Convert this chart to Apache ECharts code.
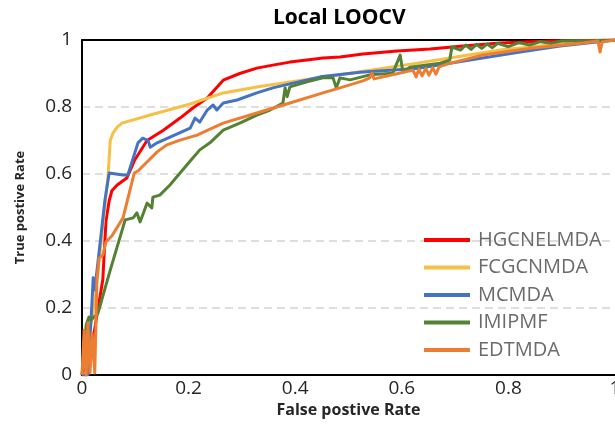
<!DOCTYPE html>
<html>
<head>
<meta charset="utf-8">
<script src="https://cdn.jsdelivr.net/npm/echarts@6/dist/echarts.min.js"></script>
<style>
  html, body { margin: 0; padding: 0; background: #fff; }
  #chart { width: 615px; height: 428px; }
</style>
</head>
<body>
<div id="chart"></div>
<script>
// ROC curves, local leave-one-out cross validation: [false positive rate, true positive rate]
const methodNames = ['HGCNELMDA', 'FCGCNMDA', 'MCMDA', 'IMIPMF', 'EDTMDA'];
const methodColors = ['#FF0000', '#F8BF45', '#4472C4', '#548235', '#ED7D31'];
const axisTicks = [0, 0.2, 0.4, 0.6, 0.8, 1];

const HGCNELMDA = [
  [0, 0], [0.02, 0.1], [0.039, 0.284], [0.045, 0.46], [0.051, 0.52], [0.056, 0.55],
  [0.066, 0.567], [0.084, 0.588], [0.099, 0.642], [0.122, 0.70], [0.152, 0.73],
  [0.184, 0.767], [0.208, 0.797], [0.235, 0.827], [0.265, 0.88], [0.296, 0.90],
  [0.328, 0.916], [0.358, 0.925], [0.39, 0.934], [0.422, 0.94], [0.452, 0.946],
  [0.484, 0.949], [0.527, 0.958], [0.591, 0.967], [0.653, 0.973], [0.715, 0.982],
  [0.784, 0.991], [0.878, 0.997], [1, 1]
];

const FCGCNMDA = [
  [0, 0], [0.024, 0.22], [0.049, 0.597], [0.053, 0.70], [0.058, 0.722], [0.066, 0.74],
  [0.075, 0.752], [0.128, 0.776], [0.203, 0.809], [0.265, 0.842], [0.328, 0.86],
  [0.39, 0.875], [0.503, 0.901], [0.629, 0.931], [0.69, 0.946], [0.784, 0.97],
  [0.897, 0.988], [1, 1]
];

const MCMDA = [
  [0, 0], [0.011, 0], [0.019, 0.224], [0.021, 0.29], [0.024, 0.254], [0.034, 0.394],
  [0.043, 0.522], [0.051, 0.603], [0.077, 0.597], [0.086, 0.597], [0.105, 0.693],
  [0.114, 0.707], [0.124, 0.70], [0.128, 0.68], [0.141, 0.693], [0.165, 0.71],
  [0.203, 0.737], [0.212, 0.767], [0.221, 0.755], [0.235, 0.791], [0.246, 0.806],
  [0.253, 0.791], [0.265, 0.812], [0.291, 0.821], [0.328, 0.842], [0.358, 0.857],
  [0.39, 0.869], [0.447, 0.89], [0.522, 0.904], [0.634, 0.916], [0.728, 0.94],
  [0.822, 0.964], [0.897, 0.982], [1, 1]
];

const IMIPMF = [
  [0, 0], [0.008, 0.15], [0.013, 0.173], [0.017, 0.164], [0.03, 0.185], [0.053, 0.313],
  [0.081, 0.463], [0.096, 0.469], [0.103, 0.484], [0.109, 0.457], [0.122, 0.513],
  [0.131, 0.499], [0.133, 0.531], [0.146, 0.537], [0.165, 0.567], [0.184, 0.603],
  [0.203, 0.639], [0.221, 0.672], [0.24, 0.693], [0.265, 0.731], [0.296, 0.752],
  [0.328, 0.776], [0.353, 0.791], [0.377, 0.812], [0.381, 0.857], [0.385, 0.831],
  [0.39, 0.86], [0.422, 0.875], [0.452, 0.887], [0.471, 0.887], [0.477, 0.857],
  [0.484, 0.887], [0.503, 0.881], [0.54, 0.896], [0.583, 0.901], [0.597, 0.955],
  [0.602, 0.904], [0.615, 0.919], [0.672, 0.931], [0.69, 0.94], [0.694, 0.979],
  [0.71, 0.97], [0.72, 0.985], [0.73, 0.972], [0.74, 0.987], [0.75, 0.975],
  [0.76, 0.988], [0.77, 0.977], [0.78, 0.99], [0.8, 0.98], [0.82, 0.992],
  [0.84, 0.985], [0.86, 0.995], [0.88, 0.99], [0.9, 0.997], [0.95, 0.998], [1, 1]
];

const EDTMDA = [
  [0, 0], [0.004, 0.134], [0.008, 0.0], [0.011, 0.155], [0.015, 0.006], [0.019, 0.125],
  [0.024, 0.006], [0.028, 0.284], [0.032, 0.349], [0.039, 0.358], [0.045, 0.397],
  [0.056, 0.415], [0.077, 0.469], [0.09, 0.552], [0.098, 0.603], [0.105, 0.609],
  [0.122, 0.636], [0.141, 0.666], [0.159, 0.687], [0.184, 0.701], [0.216, 0.716],
  [0.236, 0.731], [0.265, 0.752], [0.328, 0.782], [0.39, 0.812], [0.452, 0.842],
  [0.484, 0.857], [0.527, 0.878], [0.54, 0.887], [0.544, 0.901], [0.548, 0.884],
  [0.591, 0.899], [0.621, 0.91], [0.627, 0.89], [0.632, 0.913], [0.638, 0.893],
  [0.645, 0.915], [0.651, 0.895], [0.658, 0.917], [0.664, 0.898], [0.67, 0.92],
  [0.685, 0.928], [0.752, 0.955], [0.846, 0.976], [0.94, 0.991], [0.968, 0.997],
  [0.972, 0.964], [0.976, 0.994], [1, 1]
];

const seriesData = [HGCNELMDA, FCGCNMDA, MCMDA, IMIPMF, EDTMDA];

const FONT = '"Open Sans", "Noto Sans", sans-serif';
const chart = echarts.init(document.getElementById('chart'), null, { renderer: 'canvas' });

const tickFmt = v => (axisTicks.indexOf(v) >= 0 ? String(v) : '');

chart.setOption({
  animation: false,
  backgroundColor: '#fff',
  title: {
    text: 'Local LOOCV',
    left: 268,
    top: 3,
    textStyle: { fontFamily: FONT, fontSize: 21, fontWeight: 'bold', color: '#000' }
  },
  grid: { left: 82, top: 40, right: 0, bottom: 53, containLabel: false, outerBoundsMode: 'none' },
  legend: {
    orient: 'vertical',
    left: 419,
    top: 224,
    icon: 'rect',
    itemWidth: 46,
    itemHeight: 4,
    itemGap: 5.5,
    data: methodNames,
    textStyle: { fontFamily: FONT, fontSize: 20, color: '#6b6b6b', lineHeight: 22, padding: [0, 0, 0, 3] }
  },
  xAxis: [{
    type: 'value', min: 0, max: 1, interval: 0.2,
    axisLine: { show: true, lineStyle: { color: '#000', width: 2 } },
    axisTick: { show: false },
    splitLine: { show: false },
    axisLabel: { fontFamily: FONT, fontSize: 19, color: '#262626', margin: 4, formatter: tickFmt },
    name: 'False postive Rate',
    nameLocation: 'middle',
    nameGap: 27,
    nameTextStyle: { fontFamily: FONT, fontSize: 16, fontWeight: 'bold', color: '#262626' }
  }, {
    type: 'value', min: 0, max: 1, position: 'top',
    axisLine: { show: true, lineStyle: { color: '#000', width: 2 } },
    axisTick: { show: false }, axisLabel: { show: false }, splitLine: { show: false }
  }],
  yAxis: {
    type: 'value', min: 0, max: 1, interval: 0.2,
    axisLine: { show: true, lineStyle: { color: '#000', width: 2 } },
    axisTick: { show: false },
    splitLine: { show: true, lineStyle: { color: '#d4d4d4', width: 1.5, type: [8, 5] } },
    axisLabel: { fontFamily: FONT, fontSize: 19, color: '#262626', margin: 10, formatter: tickFmt },
    name: 'True postive Rate',
    nameLocation: 'middle',
    nameGap: 55,
    nameTextStyle: { fontFamily: FONT, fontSize: 13, fontWeight: 'bold', color: '#262626' }
  },
  series: methodNames.map((name, i) => ({
    name: name,
    type: 'line',
    xAxisIndex: 0,
    data: seriesData[i],
    symbol: 'none',
    smooth: false,
    color: methodColors[i],
    lineStyle: { width: 3, color: methodColors[i], join: 'round' }
  }))
});
</script>
</body>
</html>
